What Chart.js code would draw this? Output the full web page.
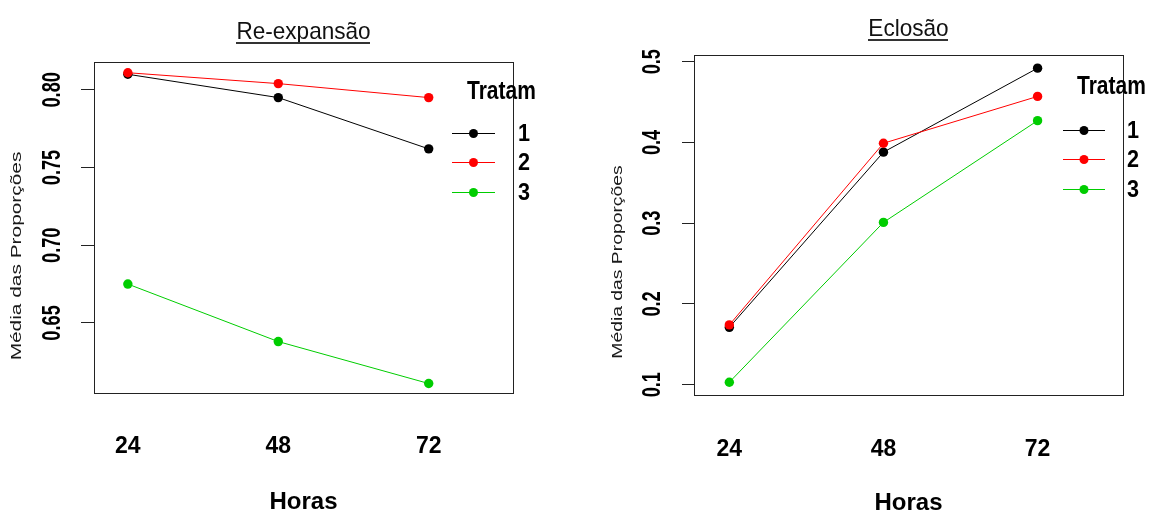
<!DOCTYPE html>
<html><head><meta charset="utf-8">
<script src="https://cdn.jsdelivr.net/npm/chart.js@4.4.1/dist/chart.umd.min.js"></script>
<style>
html,body{margin:0;padding:0;background:#fff;overflow:hidden}
#wrap{position:relative;width:1151px;height:514px;background:#fff}
canvas{position:absolute;top:0}
</style></head><body>
<div id="wrap">
<canvas id="c1" width="575" height="514" style="left:0px"></canvas>
<canvas id="c2" width="576" height="514" style="left:575px"></canvas>
</div>
<script>
// ---- data ----
const hours = [24, 48, 72];
const treatments = ['1', '2', '3'];
const seriesColors = ['#000000', '#FF0000', '#00CD00'];

const reexp1 = [0.810, 0.795, 0.762];
const reexp2 = [0.811, 0.804, 0.795];
const reexp3 = [0.675, 0.638, 0.611];

const eclos1 = [0.171, 0.388, 0.492];
const eclos2 = [0.174, 0.399, 0.457];
const eclos3 = [0.103, 0.301, 0.427];

const reexpTicks = [0.65, 0.70, 0.75, 0.80];
const reexpTickLabels = ['0.65', '0.70', '0.75', '0.80'];
const eclosTicks = [0.1, 0.2, 0.3, 0.4, 0.5];
const eclosTickLabels = ['0.1', '0.2', '0.3', '0.4', '0.5'];

const titleReexp = 'Re-expansão';
const titleEclos = 'Eclosão';
const yTitle = 'Média das Proporções';
const xTitle = 'Horas';
const legendTitle = 'Tratam';

// ---- styling ----
const SANS = '"Liberation Sans", Arial, sans-serif';

function drawText(ctx, text, x, y, font, o) {
  o = o || {};
  ctx.save();
  ctx.translate(x, y);
  if (o.rot) ctx.rotate(o.rot);
  ctx.scale(o.sx || 1, o.sy || 1);
  ctx.font = font;
  ctx.fillStyle = o.color || '#000';
  ctx.textAlign = o.align || 'center';
  ctx.textBaseline = o.baseline || 'middle';
  ctx.fillText(text, 0, 0);
  const w = ctx.measureText(text).width * (o.sx || 1);
  ctx.restore();
  return w;
}

const decor = {
  id: 'decor',
  afterDraw(chart, args, opts) {
    const ctx = chart.ctx;
    const a = chart.chartArea;
    ctx.save();
    // frame
    ctx.strokeStyle = '#222';
    ctx.lineWidth = 1;
    ctx.strokeRect(Math.round(a.left) + 0.5, Math.round(a.top) + 0.5,
                   Math.round(a.right - a.left), Math.round(a.bottom - a.top));
    // title with underline
    const cx = (a.left + a.right) / 2;
    const tw = drawText(ctx, opts.title, cx, opts.titleBaseline, 'normal 24px ' + SANS,
                        {sx: 0.94, baseline: 'alphabetic', color: '#111'});
    ctx.fillStyle = '#333';
    ctx.fillRect(Math.round(cx - tw / 2), opts.titleBaseline + 3, Math.round(tw), 2);
    // y tick labels (rotated, read bottom to top)
    const ys = chart.scales.y;
    ys.ticks.forEach((t, i) => {
      const py = ys.getPixelForValue(t.value);
      drawText(ctx, opts.tickLabels[i], opts.tickLabelX, py, 'bold 26px ' + SANS,
               {rot: -Math.PI / 2, sx: 0.7});
    });
    // y axis title
    drawText(ctx, yTitle, opts.yTitleX, opts.yTitleY, 'normal 14px ' + SANS,
             {rot: -Math.PI / 2, sx: opts.yTitleSx, color: '#1a1a1a'});
    // legend
    const L = opts.legend;
    drawText(ctx, legendTitle, a.right + L.titleDx, a.top + L.titleDy, 'bold 25px ' + SANS,
             {align: 'left', sx: 0.84});
    chart.data.datasets.forEach((ds, i) => {
      const y = a.top + L.itemDy[i];
      ctx.strokeStyle = ds.borderColor;
      ctx.lineWidth = 1;
      ctx.beginPath();
      ctx.moveTo(a.right + L.lineX0, y + 0.5);
      ctx.lineTo(a.right + L.lineX1, y + 0.5);
      ctx.stroke();
      ctx.fillStyle = ds.borderColor;
      ctx.beginPath();
      ctx.arc(a.right + (L.lineX0 + L.lineX1) / 2, y + 0.5, 4.5, 0, Math.PI * 2);
      ctx.fill();
      drawText(ctx, ds.label, a.right + L.labelDx, y + 1, 'bold 24px ' + SANS, {sx: 0.9});
    });
    ctx.restore();
  }
};

function makeChart(id, series, cfg) {
  const drawOrder = [2, 1, 0];
  return new Chart(document.getElementById(id), {
    type: 'line',
    data: {
      datasets: series.map((vals, i) => ({
        label: treatments[i],
        data: hours.map((h, j) => ({x: h, y: vals[j]})),
        borderColor: seriesColors[i],
        backgroundColor: seriesColors[i],
        pointBackgroundColor: seriesColors[i],
        pointBorderWidth: 0,
        pointRadius: 4.7,
        borderWidth: 1,
        tension: 0,
        order: drawOrder[i]
      }))
    },
    options: {
      responsive: false,
      animation: false,
      devicePixelRatio: 1,
      events: [],
      layout: {padding: cfg.padding},
      plugins: {legend: {display: false}, tooltip: {enabled: false}, decor: cfg.decor},
      scales: {
        x: {
          type: 'linear', min: cfg.xMin, max: cfg.xMax,
          afterBuildTicks: s => { s.ticks = hours.map(v => ({value: v})); },
          afterFit: s => { s.height = cfg.xHeight; },
          grid: {display: false}, border: {display: false},
          ticks: {padding: cfg.xTickPad, color: '#000', font: {family: SANS, size: 23, weight: 'bold'},
                  callback: v => String(v)},
          title: {display: true, text: xTitle, color: '#000', padding: 0,
                  font: {family: SANS, size: 24, weight: 'bold', lineHeight: cfg.xTitleLH}}
        },
        y: {
          type: 'linear', min: cfg.yMin, max: cfg.yMax,
          afterBuildTicks: s => { s.ticks = cfg.ticks.map(v => ({value: v})); },
          afterFit: s => { s.width = cfg.yWidth; },
          grid: {drawOnChartArea: false, drawTicks: true, tickLength: cfg.tickLength, color: '#222', lineWidth: 1},
          border: {display: false},
          ticks: {display: false}
        }
      }
    },
    plugins: [decor]
  });
}

makeChart('c1', [reexp1, reexp2, reexp3], {
  padding: {left: 0, right: 62, top: 62, bottom: 0},
  xMin: 18.6, xMax: 85.45, yMin: 0.6049, yMax: 0.8179,
  xHeight: 121, yWidth: 94, tickLength: 13, xTitleLH: 1.0, xTickPad: 32,
  ticks: reexpTicks,
  decor: {
    title: titleReexp, titleBaseline: 39, tickLabels: reexpTickLabels, tickLabelX: 52.5,
    yTitleX: 17, yTitleY: 256, yTitleSx: 1.49,
    legend: {titleDx: -46, titleDy: 30, itemDy: [71, 100, 130], lineX0: -61, lineX1: -18, labelDx: 11}
  }
});

makeChart('c2', [eclos1, eclos2, eclos3], {
  padding: {left: 0, right: 28, top: 55, bottom: 0},
  xMin: 18.5, xMax: 85.3, yMin: 0.0872, yMax: 0.5083,
  xHeight: 119, yWidth: 119, tickLength: 12, xTitleLH: 0.85, xTickPad: 33,
  ticks: eclosTicks,
  decor: {
    title: titleEclos, titleBaseline: 36, tickLabels: eclosTickLabels, tickLabelX: 78,
    yTitleX: 43, yTitleY: 262, yTitleSx: 1.38,
    legend: {titleDx: -46, titleDy: 32, itemDy: [75, 104, 134], lineX0: -60, lineX1: -18, labelDx: 10}
  }
});
</script>
</body></html>
